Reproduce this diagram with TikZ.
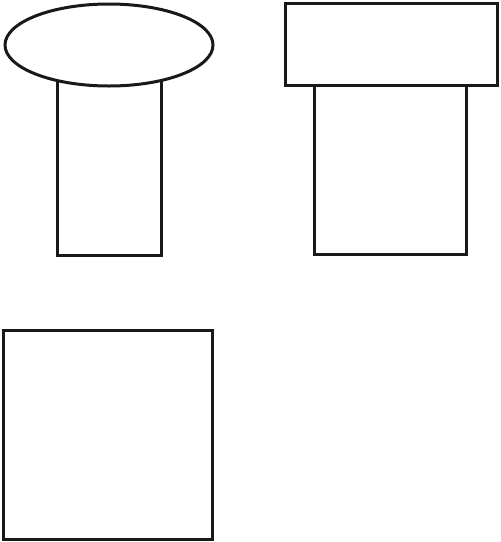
\documentclass[tikz,border=0pt]{standalone}
\usetikzlibrary{shapes.geometric}
\begin{document}
\begin{tikzpicture}[x=1pt,y=-1pt,
  shapeline/.style={draw=black!90,line width=3pt,fill=white,inner sep=0pt,outer sep=0pt},
  box/.style={shapeline,rectangle},
  oval/.style={shapeline,ellipse}]
\useasboundingbox (0,0) rectangle (501,542);
% left figure: stem then cap
\node[box,minimum width=104pt,minimum height=190pt] (stemL) at (109,160) {};
\node[oval,minimum width=208pt,minimum height=82pt] (capL) at (109,45) {};
% right figure
\node[box,minimum width=152pt,minimum height=169pt] (stemR) at (390,170) {};
\node[box,minimum width=212pt,minimum height=82pt] (capR) at (391,44) {};
% bottom square
\node[box,minimum width=209pt,minimum height=209pt] (sq) at (107.5,434.5) {};
\end{tikzpicture}
\end{document}
